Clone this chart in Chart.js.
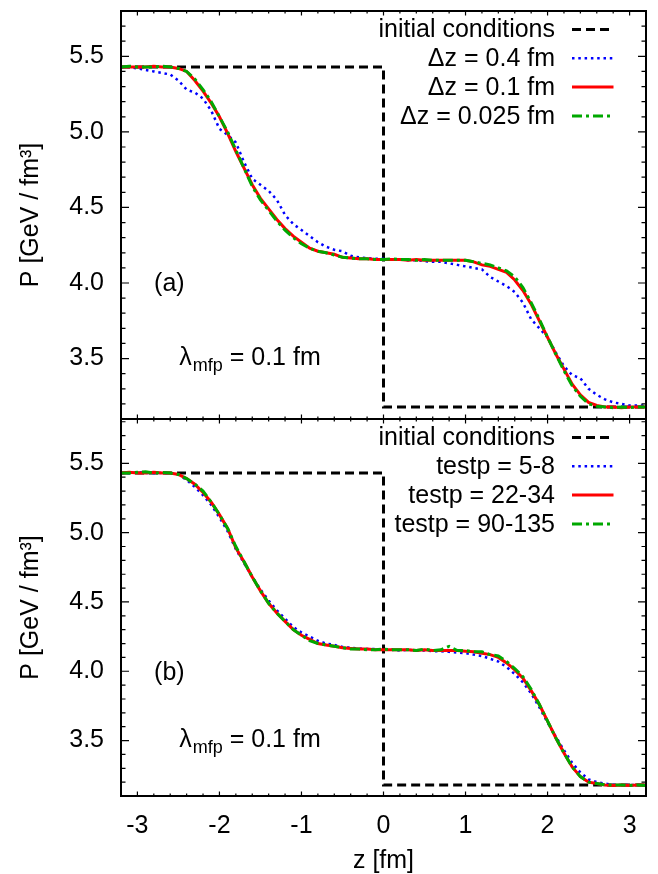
<!DOCTYPE html>
<html>
<head>
<meta charset="utf-8">
<script src="https://cdn.jsdelivr.net/npm/chart.js@4.4.1/dist/chart.umd.min.js"></script>
<style>
  html, body { margin: 0; padding: 0; background: #fff; overflow: hidden; }
  canvas { position: absolute; left: 0; }
  #chartA { top: 0; }
  #chartB { top: 419px; }
</style>
</head>
<body>
<canvas id="chartA" width="658" height="420"></canvas>
<canvas id="chartB" width="658" height="455"></canvas>
<script>
// z grid the profiles were read on (fm)
const zGrid = [-3.2,-3.1,-3.0,-2.9,-2.8,-2.7,-2.6,-2.5,-2.4,-2.3,
               -2.2,-2.1,-2.0,-1.9,-1.8,-1.7,-1.6,-1.5,-1.4,-1.3,
               -1.2,-1.1,-1.0,-0.9,-0.8,-0.7,-0.6,-0.5,-0.4,-0.3,
               -0.2,-0.1, 0.0, 0.1, 0.2, 0.3, 0.4, 0.5, 0.6, 0.7,
                0.8, 0.9, 1.0, 1.1, 1.2, 1.3, 1.4, 1.5, 1.6, 1.7,
                1.8, 1.9, 2.0, 2.1, 2.2, 2.3, 2.4, 2.5, 2.6, 2.7,
                2.8, 2.9, 3.0, 3.1, 3.2];

// initial conditions (step)
const initZ = [-3.2, 0, 0, 3.2];
const initP = [5.43, 5.43, 3.18, 3.18];

// panel (a): cell size
const pDz04 = [5.43,5.43,5.42,5.41,5.40,5.39,5.38,5.34,5.28,5.26,
               5.22,5.14,5.02,4.98,4.93,4.80,4.69,4.65,4.61,4.55,
               4.45,4.39,4.35,4.31,4.27,4.24,4.22,4.21,4.18,4.17,
               4.165,4.16,4.16,4.155,4.155,4.15,4.15,4.145,4.14,4.14,
               4.13,4.12,4.11,4.10,4.09,4.04,4.01,3.98,3.94,3.87,
               3.76,3.70,3.64,3.54,3.45,3.39,3.37,3.30,3.26,3.23,
               3.21,3.20,3.19,3.19,3.19];
const pDz01 = [5.43,5.43,5.43,5.43,5.435,5.43,5.43,5.42,5.40,5.34,
               5.27,5.19,5.10,4.99,4.87,4.76,4.65,4.56,4.49,4.42,
               4.36,4.31,4.27,4.23,4.21,4.20,4.19,4.17,4.165,4.16,
               4.16,4.155,4.155,4.155,4.155,4.15,4.155,4.15,4.15,4.15,
               4.15,4.15,4.15,4.14,4.12,4.11,4.09,4.07,4.02,3.95,
               3.86,3.75,3.64,3.53,3.43,3.33,3.26,3.21,3.19,3.18,
               3.18,3.175,3.18,3.18,3.18];
const pDz0025 = [5.43,5.435,5.43,5.43,5.43,5.435,5.43,5.42,5.40,5.35,
                 5.28,5.20,5.10,5.00,4.88,4.76,4.64,4.55,4.48,4.41,
                 4.35,4.30,4.26,4.23,4.21,4.20,4.185,4.17,4.165,4.16,
                 4.16,4.155,4.155,4.16,4.155,4.155,4.15,4.155,4.15,4.15,
                 4.15,4.15,4.15,4.14,4.13,4.12,4.10,4.08,4.04,3.97,
                 3.87,3.76,3.64,3.53,3.42,3.32,3.25,3.20,3.185,3.18,
                 3.175,3.18,3.175,3.18,3.18];

// panel (b): test particles
const pTp5 = [5.43,5.43,5.435,5.43,5.43,5.43,5.43,5.42,5.38,5.33,
              5.27,5.20,5.11,5.01,4.88,4.78,4.68,4.59,4.51,4.44,
              4.38,4.32,4.28,4.25,4.22,4.20,4.19,4.175,4.17,4.165,
              4.16,4.16,4.155,4.155,4.15,4.155,4.15,4.15,4.145,4.145,
              4.14,4.135,4.13,4.12,4.11,4.09,4.07,4.03,3.98,3.92,
              3.84,3.74,3.63,3.53,3.43,3.34,3.27,3.22,3.20,3.19,
              3.18,3.18,3.18,3.18,3.18];
const pTp22 = [5.43,5.435,5.43,5.43,5.435,5.43,5.43,5.42,5.39,5.35,
               5.29,5.22,5.13,5.03,4.89,4.79,4.68,4.58,4.49,4.42,
               4.36,4.30,4.26,4.23,4.20,4.19,4.18,4.17,4.165,4.16,
               4.16,4.155,4.155,4.155,4.155,4.155,4.15,4.155,4.15,4.15,
               4.15,4.15,4.145,4.14,4.13,4.12,4.10,4.06,4.01,3.95,
               3.86,3.76,3.64,3.52,3.41,3.31,3.24,3.20,3.19,3.18,
               3.175,3.18,3.175,3.18,3.18];
const pTp90 = [5.43,5.43,5.435,5.44,5.43,5.435,5.43,5.42,5.39,5.35,
               5.30,5.22,5.13,5.03,4.90,4.79,4.68,4.58,4.49,4.42,
               4.36,4.30,4.26,4.22,4.20,4.19,4.18,4.17,4.16,4.16,
               4.155,4.155,4.16,4.155,4.155,4.155,4.15,4.16,4.15,4.155,
               4.18,4.15,4.15,4.14,4.14,4.12,4.11,4.07,4.02,3.96,
               3.87,3.76,3.64,3.52,3.41,3.31,3.24,3.20,3.19,3.18,
               3.18,3.18,3.175,3.18,3.175];

const labelsA = ['initial conditions', '\u0394z = 0.4 fm', '\u0394z = 0.1 fm', '\u0394z = 0.025 fm'];
const labelsB = ['initial conditions', 'testp = 5-8', 'testp = 22-34', 'testp = 90-135'];

const xTickVals = [-3, -2, -1, 0, 1, 2, 3];
const yTickVals = [3.5, 4.0, 4.5, 5.0, 5.5];

const FONT = 'Liberation Sans, Arial, Helvetica, sans-serif';

const lineStyles = [
    { color: '#000000', width: 3,   dash: [9, 5] },
    { color: '#0000ff', width: 2.5, dash: [2.5, 3.8] },
    { color: '#ff0000', width: 3,   dash: [] },
    { color: '#00a800', width: 3,   dash: [10, 4, 3, 4] }
];

const pts = (xs, ys) => xs.map((x, i) => ({ x: x, y: ys[i] }));

// frame, inward ticks (gnuplot look), key and panel labels
const framePlugin = {
    id: 'frame',
    afterDraw(chart) {
        const { ctx, chartArea: a, scales: { x, y } } = chart;
        const o = chart.options.plugins.frame;
        ctx.save();

        // ticks on all four sides, pointing inward
        ctx.strokeStyle = '#000';
        ctx.lineWidth = 1.2;
        ctx.beginPath();
        for (let k = -16; k <= 16; k++) {
            const v = k / 5;
            const px = x.getPixelForValue(v);
            const len = (k % 5 === 0) ? 4.5 : 2.5;
            ctx.moveTo(px, a.bottom); ctx.lineTo(px, a.bottom - len);
            ctx.moveTo(px, a.top); ctx.lineTo(px, a.top + len);
        }
        for (let k = 31; k <= 58; k++) {
            const v = k / 10;
            const py = y.getPixelForValue(v);
            const len = (k % 5 === 0) ? 8 : 4.5;
            ctx.moveTo(a.left, py); ctx.lineTo(a.left + len, py);
            ctx.moveTo(a.right, py); ctx.lineTo(a.right - len, py);
        }
        ctx.stroke();

        ctx.lineWidth = 2;
        ctx.strokeRect(a.left, a.top, a.right - a.left, a.bottom - a.top);

        // key
        ctx.font = '25px ' + FONT;
        ctx.fillStyle = '#000';
        ctx.textAlign = 'right';
        ctx.textBaseline = 'middle';
        chart.data.datasets.forEach((ds, i) => {
            const ry = a.top + 18.5 + i * 28.8;
            ctx.fillText(ds.label, a.right - 91, ry + 1);
            ctx.beginPath();
            ctx.setLineDash(ds.borderDash || []);
            ctx.lineWidth = ds.borderWidth;
            ctx.strokeStyle = ds.borderColor;
            ctx.moveTo(a.right - 74, ry);
            ctx.lineTo(a.right - 32.5, ry);
            ctx.stroke();
        });
        ctx.setLineDash([]);

        // panel tag
        ctx.textAlign = 'center';
        ctx.fillText(o.tag, x.getPixelForValue(-2.61), y.getPixelForValue(3.99));

        // lambda_mfp = 0.1 fm
        ctx.textAlign = 'left';
        let lx = x.getPixelForValue(-2.49);
        const ly = y.getPixelForValue(3.505);
        ctx.fillText('\u03bb', lx, ly);
        lx += ctx.measureText('\u03bb').width + 1;
        ctx.font = '18px ' + FONT;
        ctx.fillText('mfp', lx, ly + 8);
        lx += ctx.measureText('mfp').width;
        ctx.font = '25px ' + FONT;
        ctx.fillText(' = 0.1 fm', lx, ly);

        ctx.restore();
    }
};

const noEdgePadding = s => {
    s.paddingTop = 0; s.paddingBottom = 0;
    s.paddingLeft = 0; s.paddingRight = 0;
};

function makeChart(id, labels, series, tag, showX, yMax, padding) {
    const datasets = [pts(initZ, initP)].concat(series.map(s => pts(zGrid, s))).map((data, i) => ({
        label: labels[i],
        data: data,
        borderColor: lineStyles[i].color,
        borderWidth: lineStyles[i].width,
        borderDash: lineStyles[i].dash,
        pointRadius: 0,
        tension: 0,
        fill: false,
        order: 3 - i
    }));

    return new Chart(document.getElementById(id), {
        type: 'line',
        data: { datasets: datasets },
        options: {
            responsive: false,
            animation: false,
            layout: { padding: padding },
            plugins: {
                legend: { display: false },
                tooltip: { enabled: false },
                frame: { tag: tag }
            },
            scales: {
                x: {
                    type: 'linear',
                    min: -3.2, max: 3.2,
                    display: showX,
                    grid: { display: false, drawTicks: false },
                    border: { display: false },
                    afterBuildTicks: s => { s.ticks = xTickVals.map(v => ({ value: v })); },
                    afterFit: s => { noEdgePadding(s); if (showX) s.height = 78; },
                    ticks: {
                        color: '#000', padding: 15, maxRotation: 0,
                        font: { family: FONT, size: 25 },
                        callback: v => String(v)
                    },
                    title: {
                        display: true, text: 'z [fm]', color: '#000',
                        font: { family: FONT, size: 25, lineHeight: 1 },
                        padding: { top: 0, bottom: 0 }
                    }
                },
                y: {
                    type: 'linear',
                    min: 3.1, max: yMax,
                    grid: { display: false, drawTicks: false },
                    border: { display: false },
                    afterBuildTicks: s => { s.ticks = yTickVals.map(v => ({ value: v })); },
                    afterFit: s => { noEdgePadding(s); s.width = 121; },
                    ticks: {
                        color: '#000', padding: 17,
                        font: { family: FONT, size: 25 },
                        callback: v => v.toFixed(1)
                    },
                    title: {
                        display: true, text: 'P [GeV / fm\u00b3]', color: '#000',
                        font: { family: FONT, size: 25, lineHeight: 1 },
                        padding: { top: 19, bottom: 0 }
                    }
                }
            }
        },
        plugins: [framePlugin]
    });
}

makeChart('chartA', labelsA, [pDz04, pDz01, pDz0025], '(a)', false, 5.8,
    { top: 11, bottom: 1, left: 0, right: 12 });
makeChart('chartB', labelsB, [pTp5, pTp22, pTp90], '(b)', true, 5.82,
    { top: 0, bottom: 0, left: 0, right: 12 });
</script>
</body>
</html>
